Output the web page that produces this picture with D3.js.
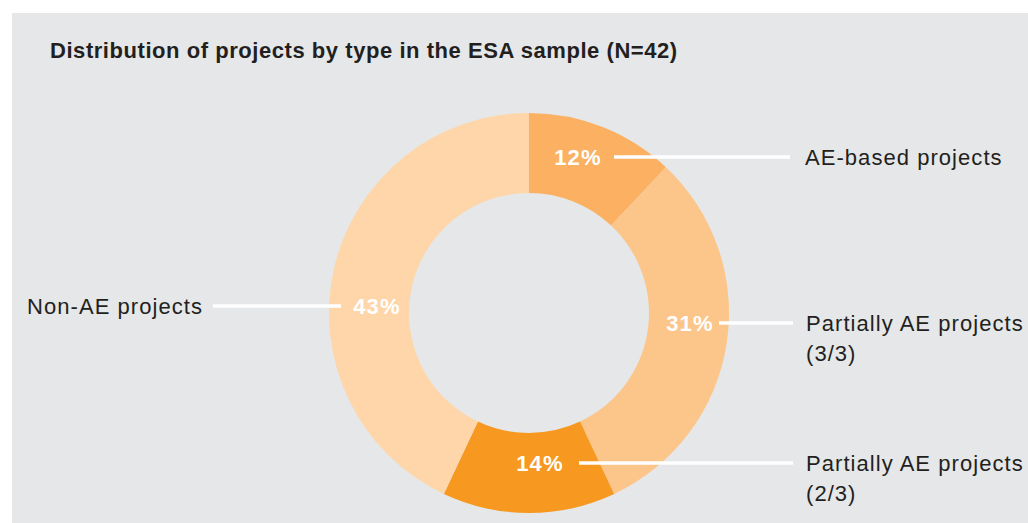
<!DOCTYPE html>
<html>
<head>
<meta charset="utf-8">
<script src="https://cdn.jsdelivr.net/npm/d3@7"></script>
<style>
  html, body { margin: 0; padding: 0; background: #ffffff; }
  svg { display: block; }
  text { font-family: "Liberation Sans", Arial, Helvetica, sans-serif; }
</style>
</head>
<body>
<svg id="chart" width="1028" height="523"></svg>
<script>
// Project types in the sample, clockwise from 12 o'clock
const categories = ["AE-based projects", "Partially AE projects (3/3)", "Partially AE projects (2/3)", "Non-AE projects"];
const categoryLines = [["AE-based projects"], ["Partially AE projects", "(3/3)"], ["Partially AE projects", "(2/3)"], ["Non-AE projects"]];
const shares = [12, 31, 14, 43];
const sliceColors = ["#fbb062", "#fcc589", "#f79820", "#fed6a9"];
const title = "Distribution of projects by type in the ESA sample (N=42)";

const W = 1028, H = 523;
const svg = d3.select("#chart");

// panel
svg.append("rect").attr("x", 12).attr("y", 13).attr("width", W - 12).attr("height", H - 13)
  .attr("fill", "#e6e7e8");

svg.append("text").attr("x", 50).attr("y", 58)
  .attr("font-size", 22).attr("font-weight", "bold").attr("fill", "#231f20")
  .attr("letter-spacing", 0.55)
  .text(title);

const cx = 529, cy = 313, rOuter = 200, rInner = 120;
const g = svg.append("g").attr("transform", `translate(${cx},${cy})`);

const pie = d3.pie().sort(null).value(d => d);
const arcs = pie(shares);
const arc = d3.arc().innerRadius(rInner).outerRadius(rOuter);

g.selectAll("path.slice").data(arcs).enter().append("path")
  .attr("class", "slice")
  .attr("d", arc)
  .attr("fill", (d, i) => sliceColors[i]);

// annotation layout: percentage label centre x, leader y, leader extent, category label side
const layout = [
  { tx: 578, ly: 157, x1: 614, x2: 790, lx: 805, anchor: "start" },
  { tx: 690, ly: 323, x1: 719, x2: 793, lx: 806, anchor: "start" },
  { tx: 540, ly: 463, x1: 579, x2: 793, lx: 806, anchor: "start" },
  { tx: 377, ly: 306, x1: 213, x2: 341, lx: 203, anchor: "end" }
];

const ann = svg.append("g");
arcs.forEach((a, i) => {
  const L = layout[i];
  ann.append("line").attr("x1", L.x1).attr("x2", L.x2).attr("y1", L.ly).attr("y2", L.ly)
    .attr("stroke", "#ffffff").attr("stroke-width", 3.5);
  ann.append("text").attr("x", L.tx).attr("y", L.ly + 8)
    .attr("text-anchor", "middle").attr("font-size", 22).attr("font-weight", "bold")
    .attr("letter-spacing", 1.2)
    .attr("fill", "#ffffff").text(shares[i] + "%");
  const t = ann.append("text").attr("x", L.lx).attr("y", L.ly + 8)
    .attr("text-anchor", L.anchor).attr("font-size", 22).attr("fill", "#231f20")
    .attr("letter-spacing", 1.05);
  categoryLines[i].forEach((s, k) => {
    t.append("tspan").attr("x", L.lx).attr("dy", k === 0 ? 0 : 30).text(s);
  });
});
</script>
</body>
</html>
